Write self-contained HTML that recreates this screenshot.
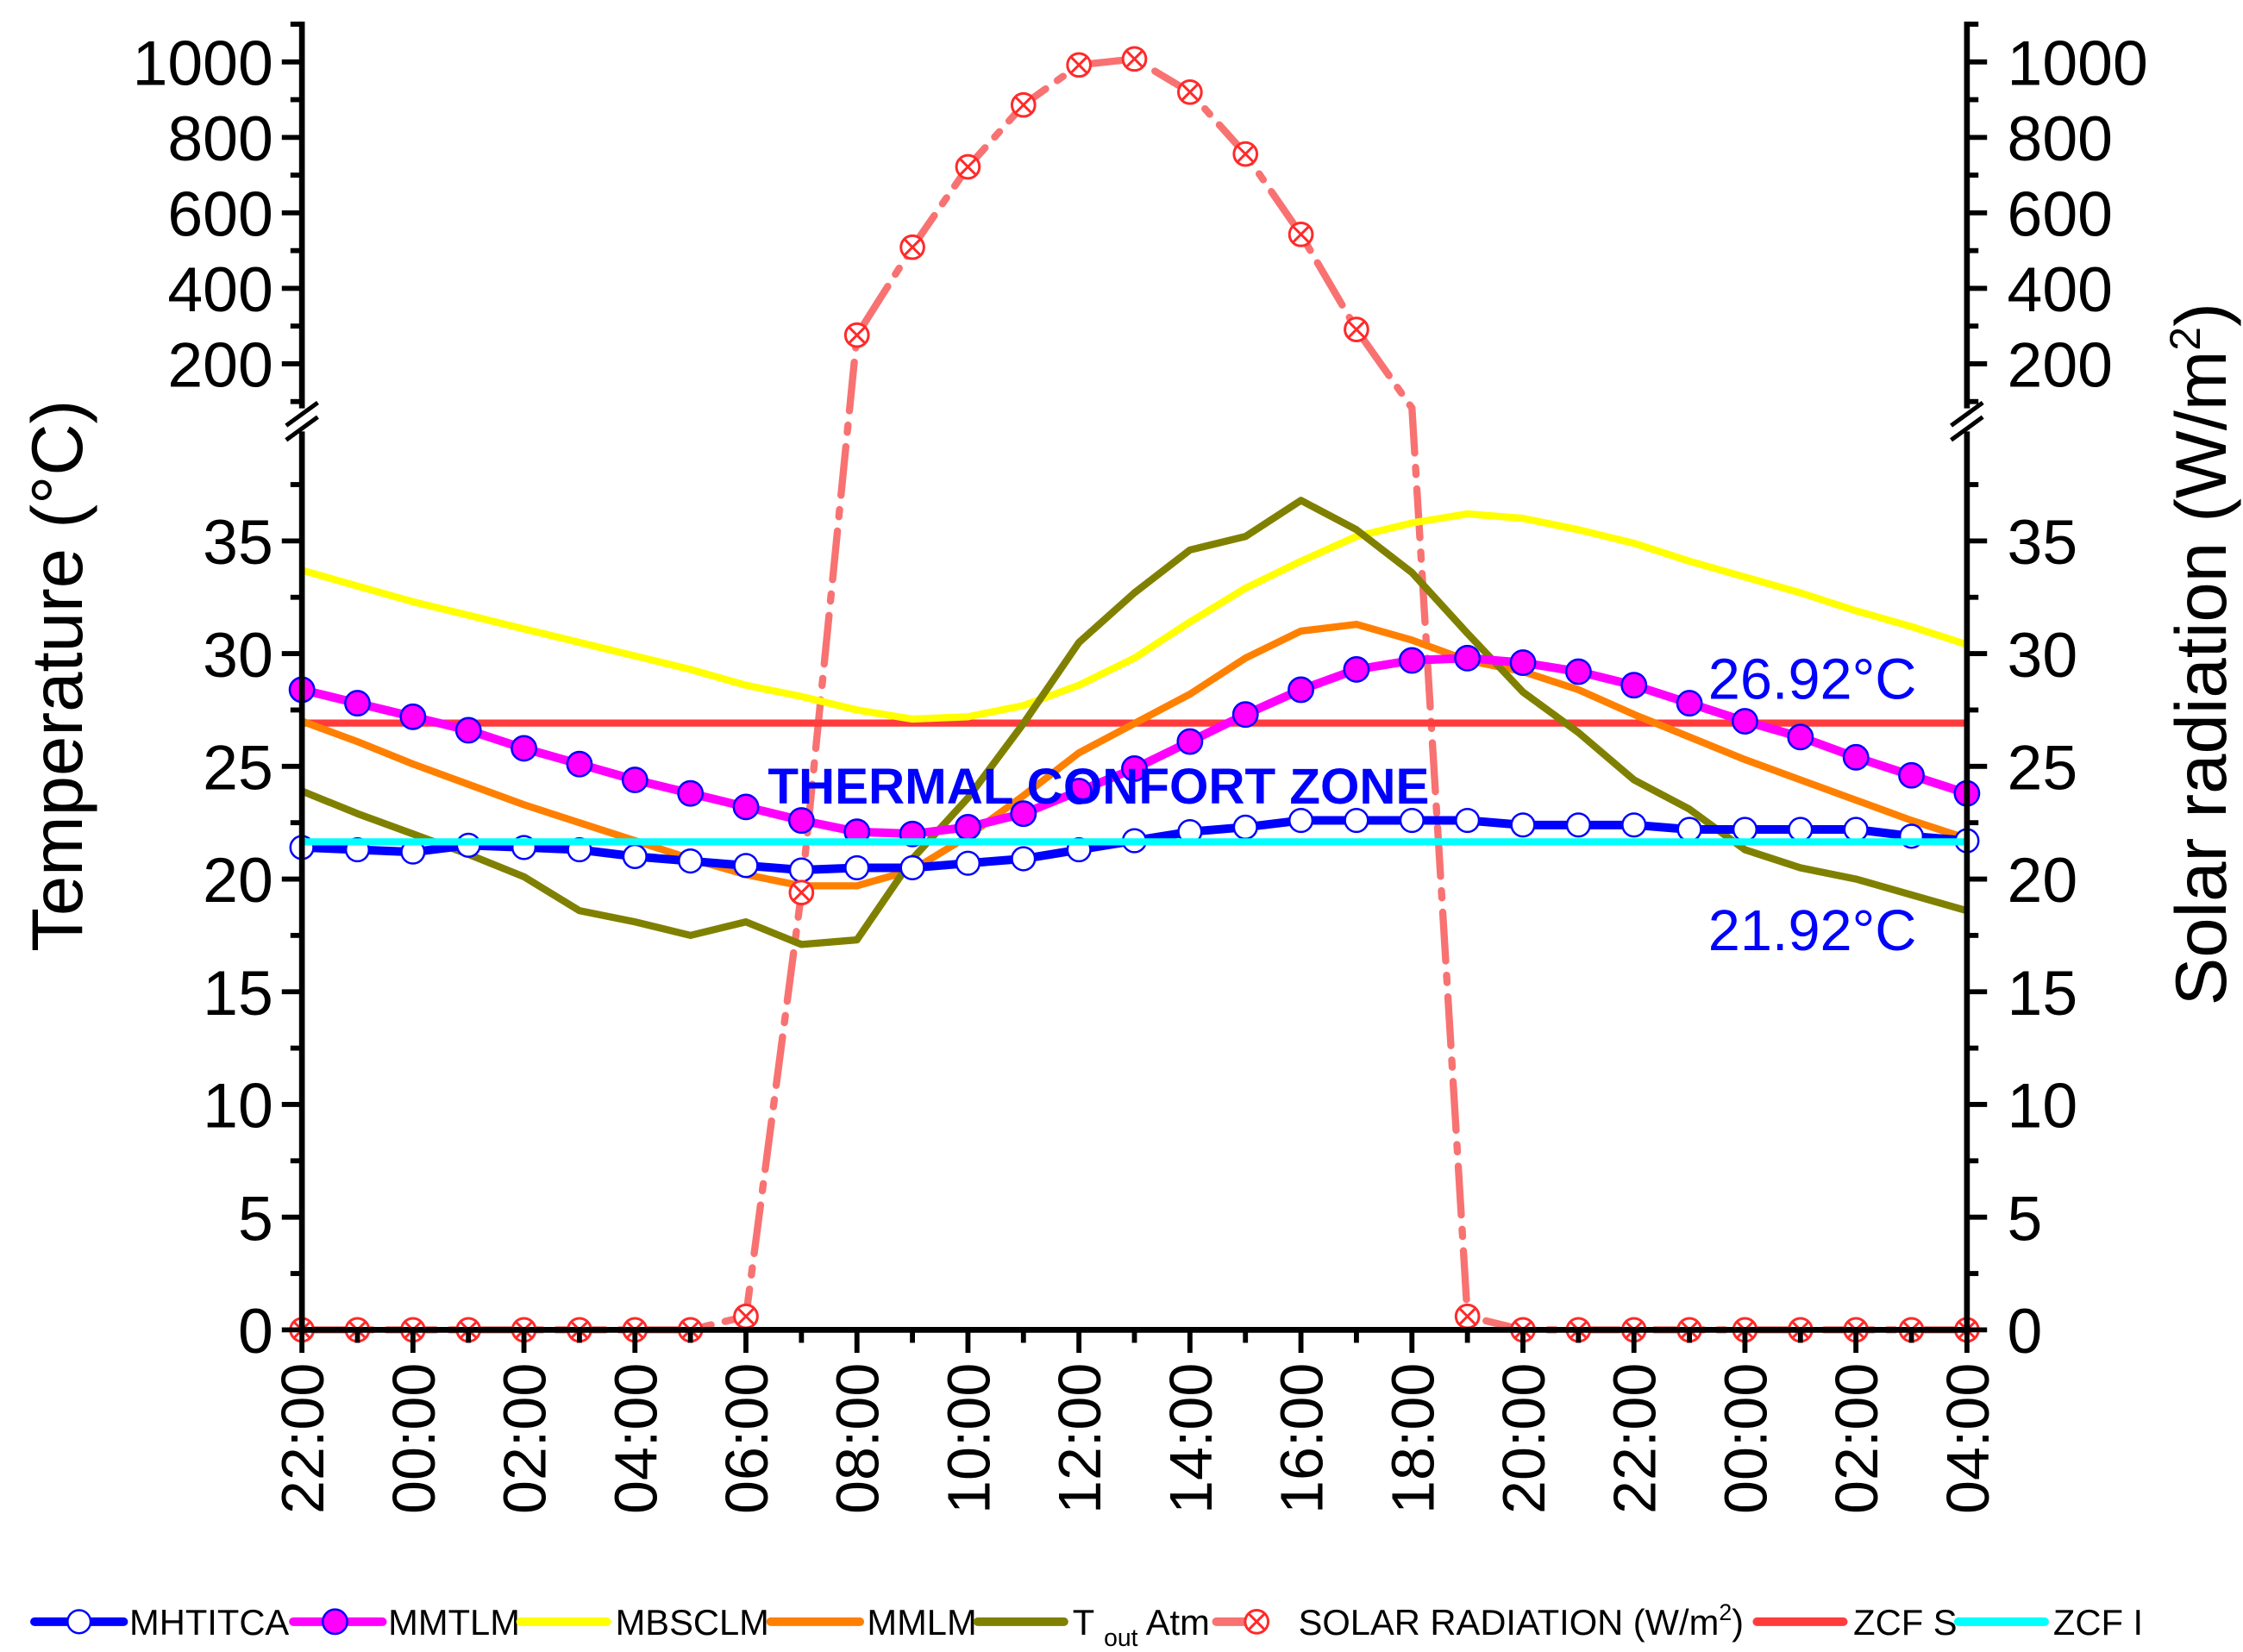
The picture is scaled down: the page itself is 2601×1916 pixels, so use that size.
<!DOCTYPE html>
<html><head><meta charset="utf-8"><style>html,body{margin:0;padding:0;background:#fff}svg{display:block}text{font-family:"Liberation Sans",sans-serif}</style></head>
<body>
<svg id="chart" width="2601" height="1916" viewBox="0 0 1560 1149" xmlns="http://www.w3.org/2000/svg"></svg>
<script>
const hours = ["22:00","23:00","00:00","01:00","02:00","03:00","04:00","05:00","06:00","07:00","08:00","09:00","10:00","11:00","12:00","13:00","14:00","15:00","16:00","17:00","18:00","19:00","20:00","21:00","22:00","23:00","00:00","01:00","02:00","03:00","04:00"];
const mhtitca = [21.4,21.3,21.2,21.5,21.4,21.3,21.0,20.8,20.6,20.4,20.5,20.5,20.7,20.9,21.3,21.7,22.1,22.3,22.6,22.6,22.6,22.6,22.4,22.4,22.4,22.2,22.2,22.2,22.2,21.9,21.7];
const mmtlm = [28.4,27.8,27.2,26.6,25.8,25.1,24.4,23.8,23.2,22.6,22.1,22.0,22.3,22.9,23.9,24.9,26.1,27.3,28.4,29.3,29.7,29.8,29.6,29.2,28.6,27.8,27.0,26.3,25.4,24.6,23.8];
const mbsclm = [33.7,33.0,32.3,31.7,31.1,30.5,29.9,29.3,28.6,28.1,27.5,27.1,27.2,27.7,28.6,29.8,31.4,32.9,34.1,35.2,35.8,36.2,36.0,35.5,34.9,34.1,33.4,32.7,31.9,31.2,30.4];
const mmlm = [27.0,26.1,25.1,24.2,23.3,22.5,21.7,20.9,20.2,19.7,19.7,20.4,21.9,23.7,25.6,26.9,28.2,29.8,31.0,31.3,30.6,29.7,29.2,28.4,27.3,26.3,25.3,24.4,23.5,22.6,21.8];
const tout = [23.9,22.9,22.0,21.1,20.1,18.6,18.1,17.5,18.1,17.1,17.3,20.9,23.6,26.9,30.5,32.7,34.6,35.2,36.8,35.5,33.6,30.9,28.3,26.5,24.4,23.1,21.3,20.5,20.0,19.3,18.6];
const solar = [0,0,0,0,0,0,0,0,0.6,19.4,276,509,722,886,992,1008,920,756,543,291,90,0.6,0,0,0,0,0,0,0,0,0];
const zcfS = 26.92;
const zcfI = 21.65;
const lowTicks = [0,5,10,15,20,25,30,35];
const highTicks = [200,400,600,800,1000];

const NS="http://www.w3.org/2000/svg";
const svg=document.getElementById('chart');
function mk(tag,attrs,parent){const e=document.createElementNS(NS,tag);for(const k in attrs)e.setAttribute(k,attrs[k]);(parent||svg).appendChild(e);return e;}
const X0=210,X1=1368,YB=925;
const xS=i=>X0+(X1-X0)*i/(hours.length-1);
const yLow=v=>YB-15.68*v;
const yHigh=v=>43+(1000-v)*0.2625;
function yAny(v){ if(v<=39.2) return yLow(v); if(v>=97) return yHigh(v); return yLow(39.2)+(v-39.2)/(97-39.2)*(yHigh(97)-yLow(39.2)); }
function pts(arr,f){return arr.map((v,i)=>xS(i).toFixed(1)+','+f(v).toFixed(1)).join(' ');}

let sl=mk('polyline',{points:pts(solar,yAny),fill:'none',stroke:'#f87272','stroke-width':5,'stroke-dasharray':'34,10,5,10','stroke-linecap':'round'});



let zs=mk('line',{x1:X0,x2:X1,y1:yLow(zcfS),y2:yLow(zcfS),stroke:'#ff3b3b','stroke-width':5});



const series=[[mbsclm,'#ffff00','mbsclm-line'],[mmlm,'#ff8000','mmlm-line'],[tout,'#808000','t-out-atm-line']];
series.forEach(s=>{const p=mk('polyline',{points:pts(s[0],yLow),fill:'none',stroke:s[1],'stroke-width':5,'stroke-linejoin':'round'});

});

let mg=mk('polyline',{points:pts(mmtlm,yLow),fill:'none',stroke:'#ff00ff','stroke-width':6});


mmtlm.forEach((v,i)=>{const c=mk('circle',{cx:xS(i),cy:yLow(v),r:8.5,fill:'#ff00ff',stroke:'#0000ff','stroke-width':1.5});

});

let bl=mk('polyline',{points:pts(mhtitca,yLow),fill:'none',stroke:'#0000ff','stroke-width':6});


mhtitca.forEach((v,i)=>{const c=mk('circle',{cx:xS(i),cy:yLow(v),r:8,fill:'#fff',stroke:'#0000ff','stroke-width':1.5});

});

let zi=mk('line',{x1:X0,x2:X1,y1:yLow(zcfI),y2:yLow(zcfI),stroke:'#00ffff','stroke-width':5});



function xmark(cx,cy,parent){const g=mk('g',{},parent);mk('circle',{cx:cx,cy:cy,r:8,fill:'#fff',stroke:'#ff2a2a','stroke-width':1.8},g);mk('path',{d:`M${cx-6},${cy-6}L${cx+6},${cy+6}M${cx+6},${cy-6}L${cx-6},${cy+6}`,stroke:'#ff2a2a','stroke-width':1.8},g);return g;}
solar.forEach((v,i)=>{ if(v>39.2&&v<97) return; const g=xmark(xS(i),yAny(v));

});

const axG=mk('g',{stroke:'#000','stroke-width':4,fill:'none'});


mk('line',{x1:X0,x2:X1,y1:YB,y2:YB},axG);
[X0,X1].forEach(x=>{mk('line',{x1:x,x2:x,y1:15,y2:284},axG);mk('line',{x1:x,x2:x,y1:300,y2:YB+2},axG);
 mk('line',{x1:x-11,x2:x+11,y1:296,y2:280,'stroke-width':3},axG);mk('line',{x1:x-11,x2:x+11,y1:306,y2:290,'stroke-width':3},axG);});
const tG=mk('g',{stroke:'#000','stroke-width':3.5});
for(let v=0;v<=37.5;v+=2.5){const y=yLow(v),L=(v%5===0)?14:8;mk('line',{x1:X0-L,x2:X0,y1:y,y2:y},tG);mk('line',{x1:X1,x2:X1+L,y1:y,y2:y},tG);}
for(let v=100;v<=1100;v+=100){const y=yHigh(v),L=(v%200===0)?14:8;mk('line',{x1:X0-L,x2:X0,y1:y,y2:y},tG);mk('line',{x1:X1,x2:X1+L,y1:y,y2:y},tG);}
hours.forEach((h,i)=>{const L=(i%2===0)?16:9;mk('line',{x1:xS(i),x2:xS(i),y1:YB,y2:YB+L},tG);});

function txt(s,attrs,name){const t=mk('text',attrs);t.textContent=s;return t;}
lowTicks.forEach(v=>{txt(v,{x:190,y:yLow(v)+16,'font-size':44,'text-anchor':'end'},'left-tick-label');txt(v,{x:1396,y:yLow(v)+16,'font-size':44},'right-tick-label');});
highTicks.forEach(v=>{txt(v,{x:190,y:yHigh(v)+16,'font-size':44,'text-anchor':'end'},'left-tick-label');txt(v,{x:1396,y:yHigh(v)+16,'font-size':44},'right-tick-label');});
hours.forEach((h,i)=>{ if(i%2) return; txt(h,{x:0,y:0,'font-size':42,'text-anchor':'end',transform:`translate(${xS(i)+15},948) rotate(-90)`},'x-tick-label');});
txt('Temperature (°C)',{x:0,y:0,'font-size':50,'text-anchor':'middle',transform:'translate(57,470) rotate(-90)'},'y-axis-title-left');
const rt=txt('',{x:0,y:0,'font-size':50,'text-anchor':'middle',transform:'translate(1548,455) rotate(-90)'},'y-axis-title-right');
rt.innerHTML='Solar radiation (W/m<tspan dy="-18" font-size="30">2</tspan><tspan dy="18">)</tspan>';
txt('26.92°C',{x:1188,y:486,'font-size':40,fill:'#0000ff'},'zcf-s-label');
txt('21.92°C',{x:1188,y:661,'font-size':40,fill:'#0000ff'},'zcf-i-label');
txt('THERMAL CONFORT ZONE',{x:534,y:559,'font-size':35,'font-weight':'bold',fill:'#0000ff'},'thermal-comfort-zone-label');

const lg=mk('g',{});


function lline(x1,x2,c){mk('line',{x1:x1,x2:x2,y1:1128,y2:1128,stroke:c,'stroke-width':6,'stroke-linecap':'round'},lg);}
function ltxt(s,x,name){const t=mk('text',{x:x,y:1137,'font-size':25},lg);t.textContent=s;return t;}
lline(24,86,'#0000ff');mk('circle',{cx:55,cy:1128,r:8,fill:'#fff',stroke:'#0000ff','stroke-width':1.5},lg);ltxt('MHTITCA',90,'legend-entry-mhtitca');
lline(204,266,'#ff00ff');mk('circle',{cx:233,cy:1128,r:8.5,fill:'#ff00ff',stroke:'#0000ff','stroke-width':1.5},lg);ltxt('MMTLM',270,'legend-entry-mmtlm');
lline(362,422,'#ffff00');ltxt('MBSCLM',428,'legend-entry-mbsclm');
lline(536,598,'#ff8000');ltxt('MMLM',603,'legend-entry-mmlm');
lline(680,740,'#808000');const tt=ltxt('',746,'legend-entry-t-out-atm');tt.innerHTML='T <tspan dy="8" font-size="17">out</tspan><tspan dy="-8"> Atm</tspan>';
lline(846,880,'#f87272');xmark(874,1128,lg);const st=ltxt('',903,'legend-entry-solar-radiation');st.innerHTML='SOLAR RADIATION (W/m<tspan dy="-10" font-size="16">2</tspan><tspan dy="10">)</tspan>';
lline(1222,1282,'#ff3b3b');ltxt('ZCF S',1289,'legend-entry-zcf-s');
lline(1362,1422,'#00ffff');ltxt('ZCF I',1428,'legend-entry-zcf-i');
</script>
</body></html>
